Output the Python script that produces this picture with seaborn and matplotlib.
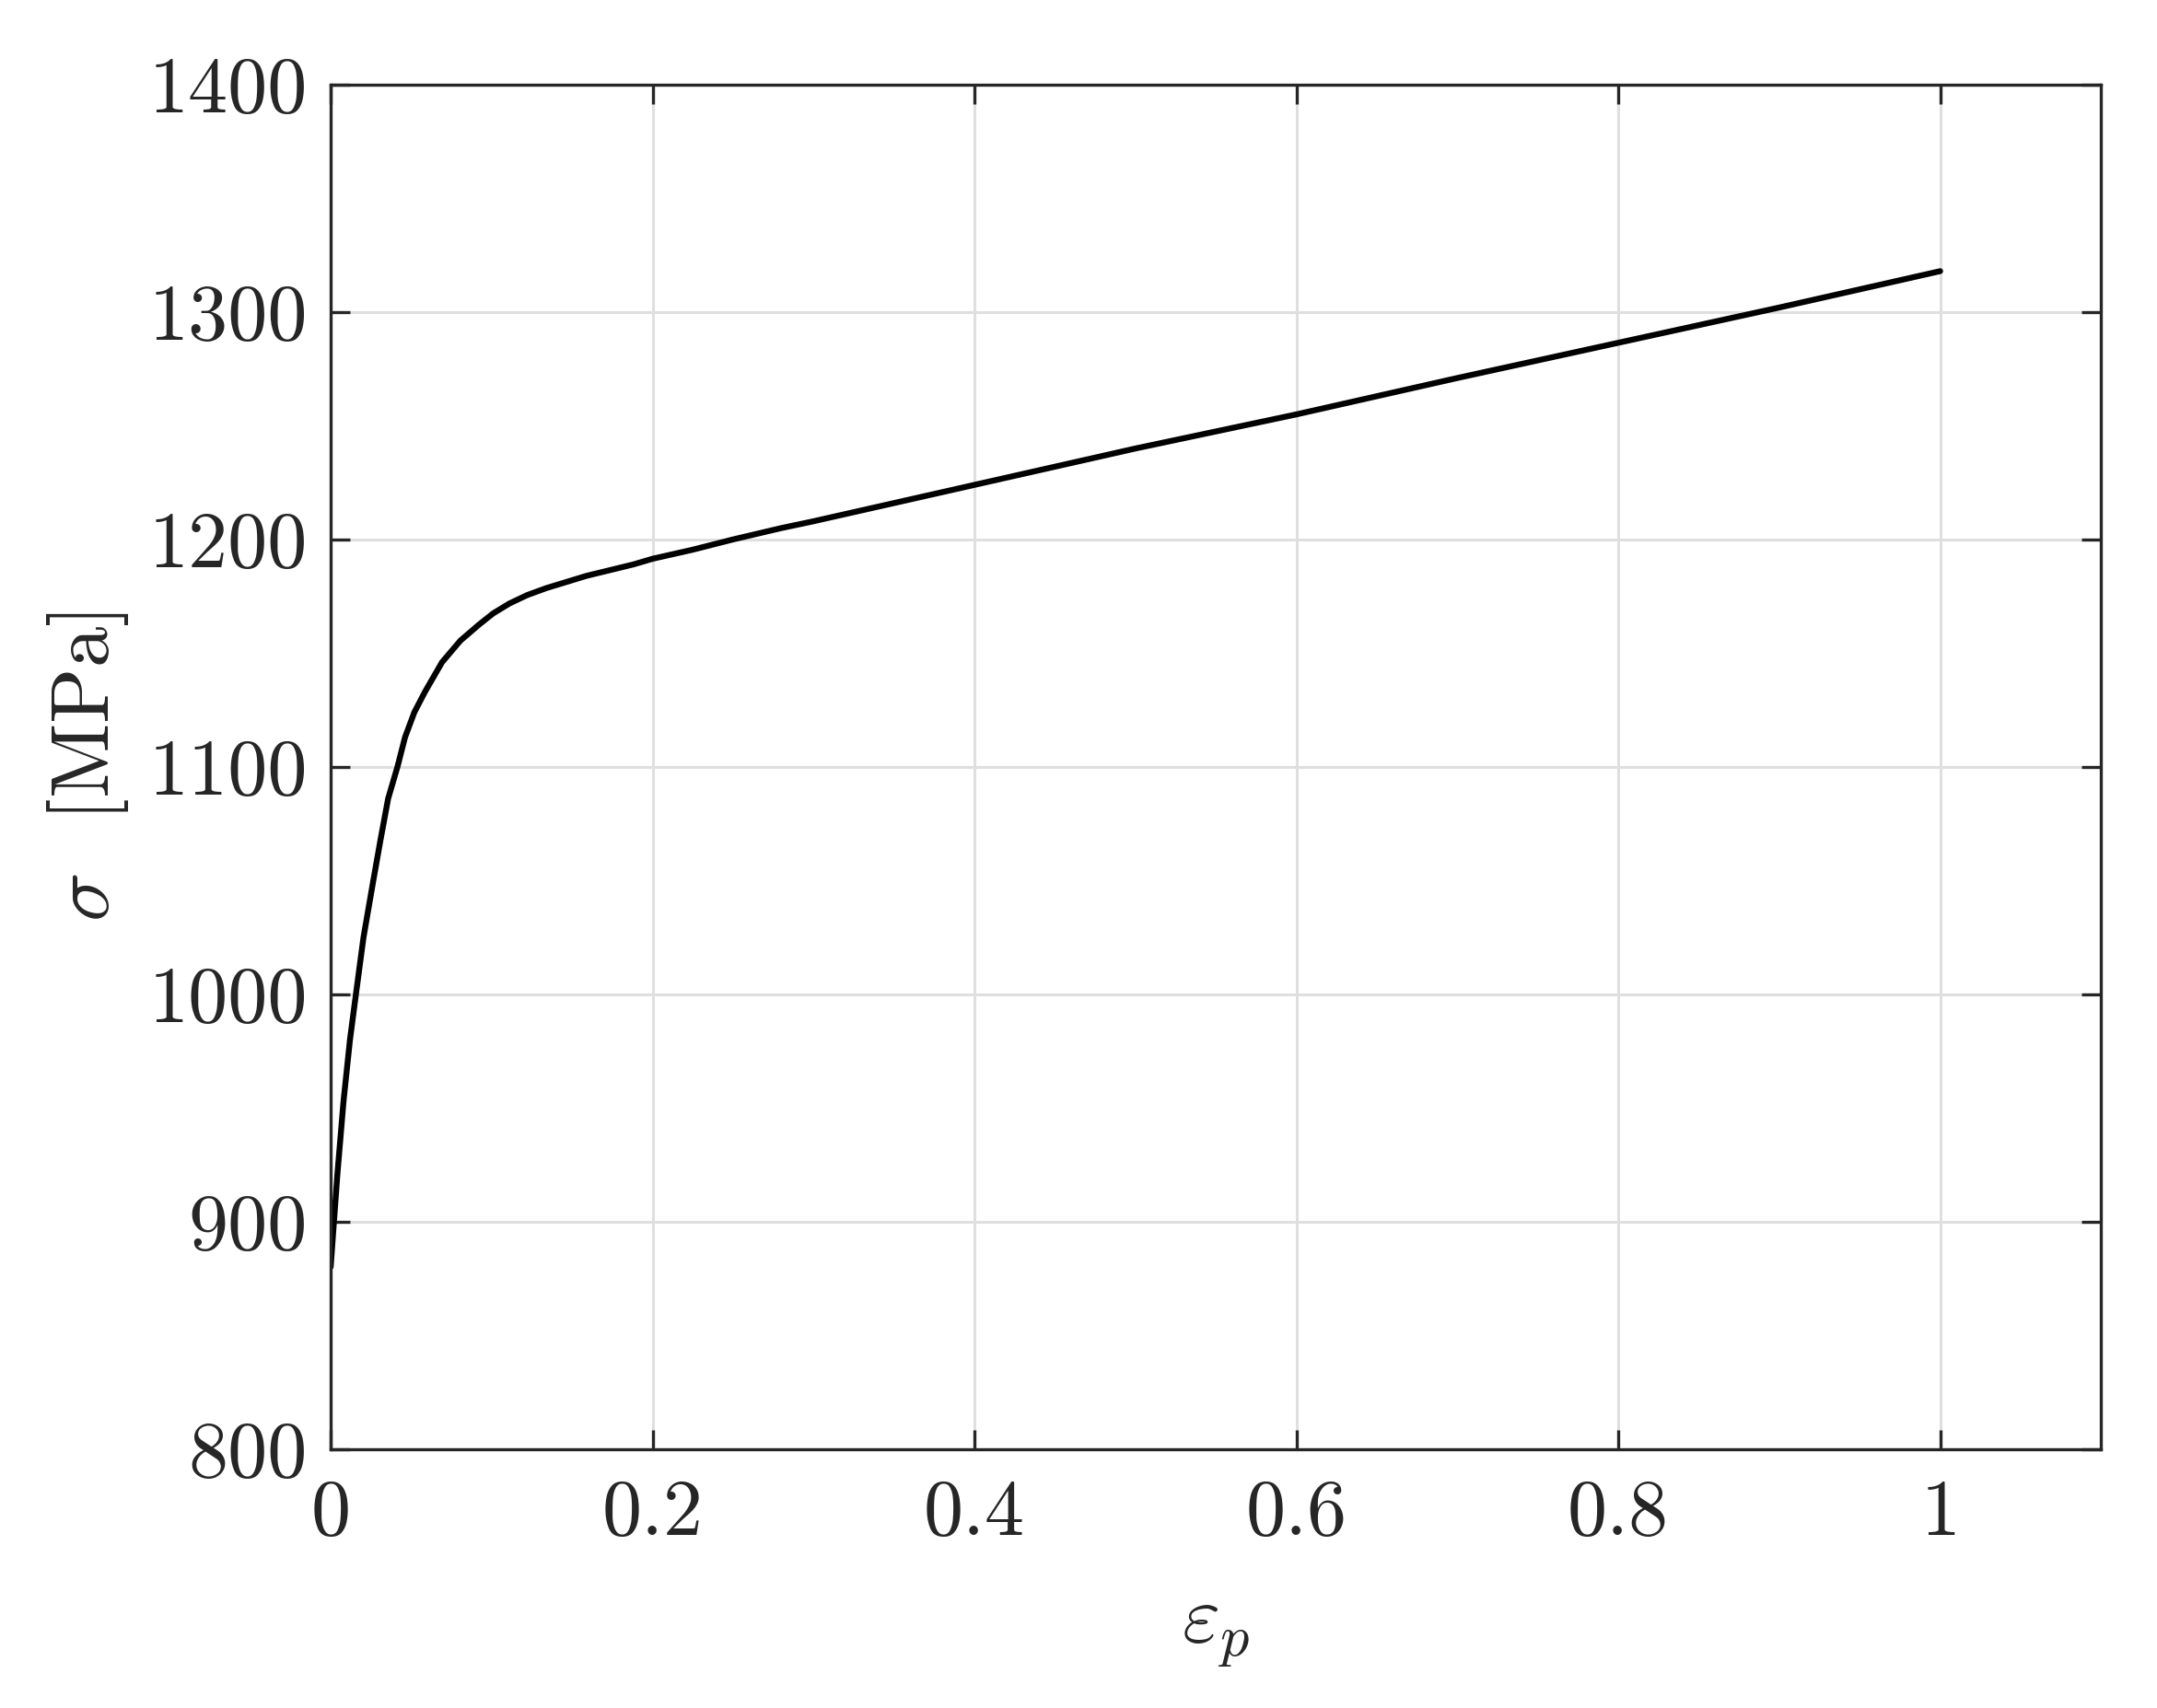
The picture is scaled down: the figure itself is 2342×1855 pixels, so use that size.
import numpy as np
import pandas as pd
import matplotlib
matplotlib.use("Agg")
import matplotlib.pyplot as plt
import seaborn as sns

# data
eps_p = [0.0, 0.0042, 0.008, 0.012, 0.0157, 0.0204, 0.0265, 0.031, 0.0357,
         0.0415, 0.0462, 0.052, 0.0586, 0.0692, 0.0806, 0.0921, 0.101, 0.111,
         0.122, 0.134, 0.159, 0.188, 0.200, 0.225, 0.250, 0.280, 0.300, 0.400,
         0.500, 0.600, 0.700, 0.800, 0.900, 1.000]
sigma = [880, 921, 953, 980, 1000, 1025, 1050, 1068, 1086,
         1100, 1113, 1124, 1133, 1146, 1155.5, 1162.5, 1167.5, 1171.8,
         1175.5, 1178.6, 1184, 1189, 1191.5, 1195.5, 1200, 1205, 1208, 1224,
         1240, 1255, 1271, 1286.5, 1302, 1318]

x_ticks = [0, 0.2, 0.4, 0.6, 0.8, 1.0]
x_ticklabels = ['0', '0.2', '0.4', '0.6', '0.8', '1']
y_ticks = [800, 900, 1000, 1100, 1200, 1300, 1400]
y_ticklabels = ['800', '900', '1000', '1100', '1200', '1300', '1400']

df = pd.DataFrame({'eps_p': eps_p, 'sigma': sigma})

sns.set_theme(style='white')
plt.rcParams['font.family'] = ['cmr10', 'DejaVu Serif']
plt.rcParams['mathtext.fontset'] = 'cm'
plt.rcParams['axes.formatter.use_mathtext'] = True

spine_col = '#262626'
fs = 31

fig = plt.figure(figsize=(11.71, 9.275), dpi=200)
ax = fig.add_axes([0.1533, 0.1517, 0.8208, 0.7987])

sns.lineplot(data=df, x='eps_p', y='sigma', ax=ax, color='black',
             linewidth=2.3, sort=False, estimator=None)

ax.set_xlim(0, 1.1)
ax.set_ylim(800, 1400)
ax.set_xticks(x_ticks)
ax.set_xticklabels(x_ticklabels, fontsize=fs, color=spine_col)
ax.set_yticks(y_ticks)
ax.set_yticklabels(y_ticklabels, fontsize=fs, color=spine_col)

ax.grid(True, color='#dfdfdf', linewidth=1.1)
ax.set_axisbelow(True)
for s in ax.spines.values():
    s.set_visible(True)
    s.set_color(spine_col)
    s.set_linewidth(1.2)

ax.tick_params(axis='both', direction='in', length=7.5, width=1.2,
               color=spine_col, top=True, right=True, bottom=True, left=True)
ax.tick_params(axis='x', pad=12)
ax.tick_params(axis='y', pad=9)

ax.set_xlabel(r'$\varepsilon_p$', fontsize=fs + 1, color=spine_col)
ax.set_ylabel(r'$\sigma$  [MPa]', fontsize=fs + 1, color=spine_col)
ax.xaxis.set_label_coords(0.5, -0.108)
ax.yaxis.set_label_coords(-0.113, 0.5)

fig.savefig('out.png', dpi=200)
plt.close(fig)
